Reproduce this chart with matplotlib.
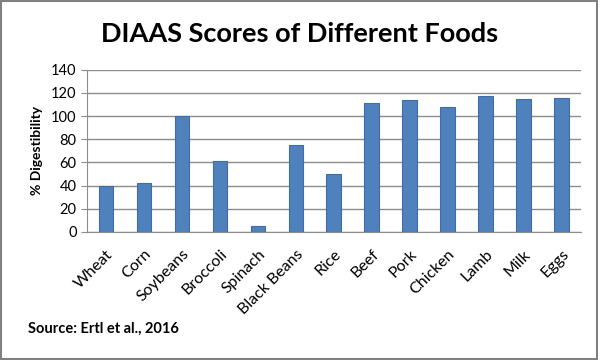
import matplotlib
matplotlib.use("Agg")
import matplotlib.pyplot as plt
from matplotlib.patches import Rectangle

# data
foods = ["Wheat", "Corn", "Soybeans", "Broccoli", "Spinach", "Black Beans", "Rice",
         "Beef", "Pork", "Chicken", "Lamb", "Milk", "Eggs"]
scores = [40, 42, 100, 61, 5, 75, 50, 111, 114, 108, 117, 115, 116]
yticks = [0, 20, 40, 60, 80, 100, 120, 140]

plt.rcParams['font.family'] = ['Lato', 'DejaVu Sans']

fig = plt.figure(figsize=(6, 3.6), dpi=100)
ax = fig.add_axes([0.145, 0.356, 0.823, 0.45])

x = range(len(foods))
ax.bar(x, scores, width=0.39, color="#4F81BD", edgecolor="#3F6EA6", linewidth=0.8, zorder=3)

ax.set_xlim(-0.5, len(foods) - 0.5)
ax.set_ylim(0, 140)
ax.set_yticks(yticks)
ax.yaxis.grid(True, color="#8C8C8C", linewidth=1.0, zorder=0)
ax.set_xticks(list(x))
ax.set_xticklabels(foods, rotation=45, ha="right", rotation_mode="anchor", fontsize=11.5)
ax.tick_params(axis="y", labelsize=10.5, length=4, color="#8C8C8C")
ax.tick_params(axis="x", length=0, pad=11)

for s in ["top", "right"]:
    ax.spines[s].set_visible(False)
ax.spines["left"].set_color("#8C8C8C")
ax.spines["bottom"].set_color("#8C8C8C")

ax.set_ylabel("% Digestibility", fontsize=10, fontweight="bold", labelpad=6)

fig.text(0.5, 0.905, "DIAAS Scores of Different Foods", ha="center", va="center",
         fontsize=19.5, fontweight="bold")
fig.text(0.047, 0.088, "Source: Ertl et al., 2016", ha="left", va="center",
         fontsize=10.5, fontweight="bold")

# frame around the picture
fig.patches.append(Rectangle((0.002, 0.004), 0.993, 0.994, transform=fig.transFigure,
                             fill=False, edgecolor="#808080", linewidth=1.5))

fig.savefig("out.png", dpi=100)
